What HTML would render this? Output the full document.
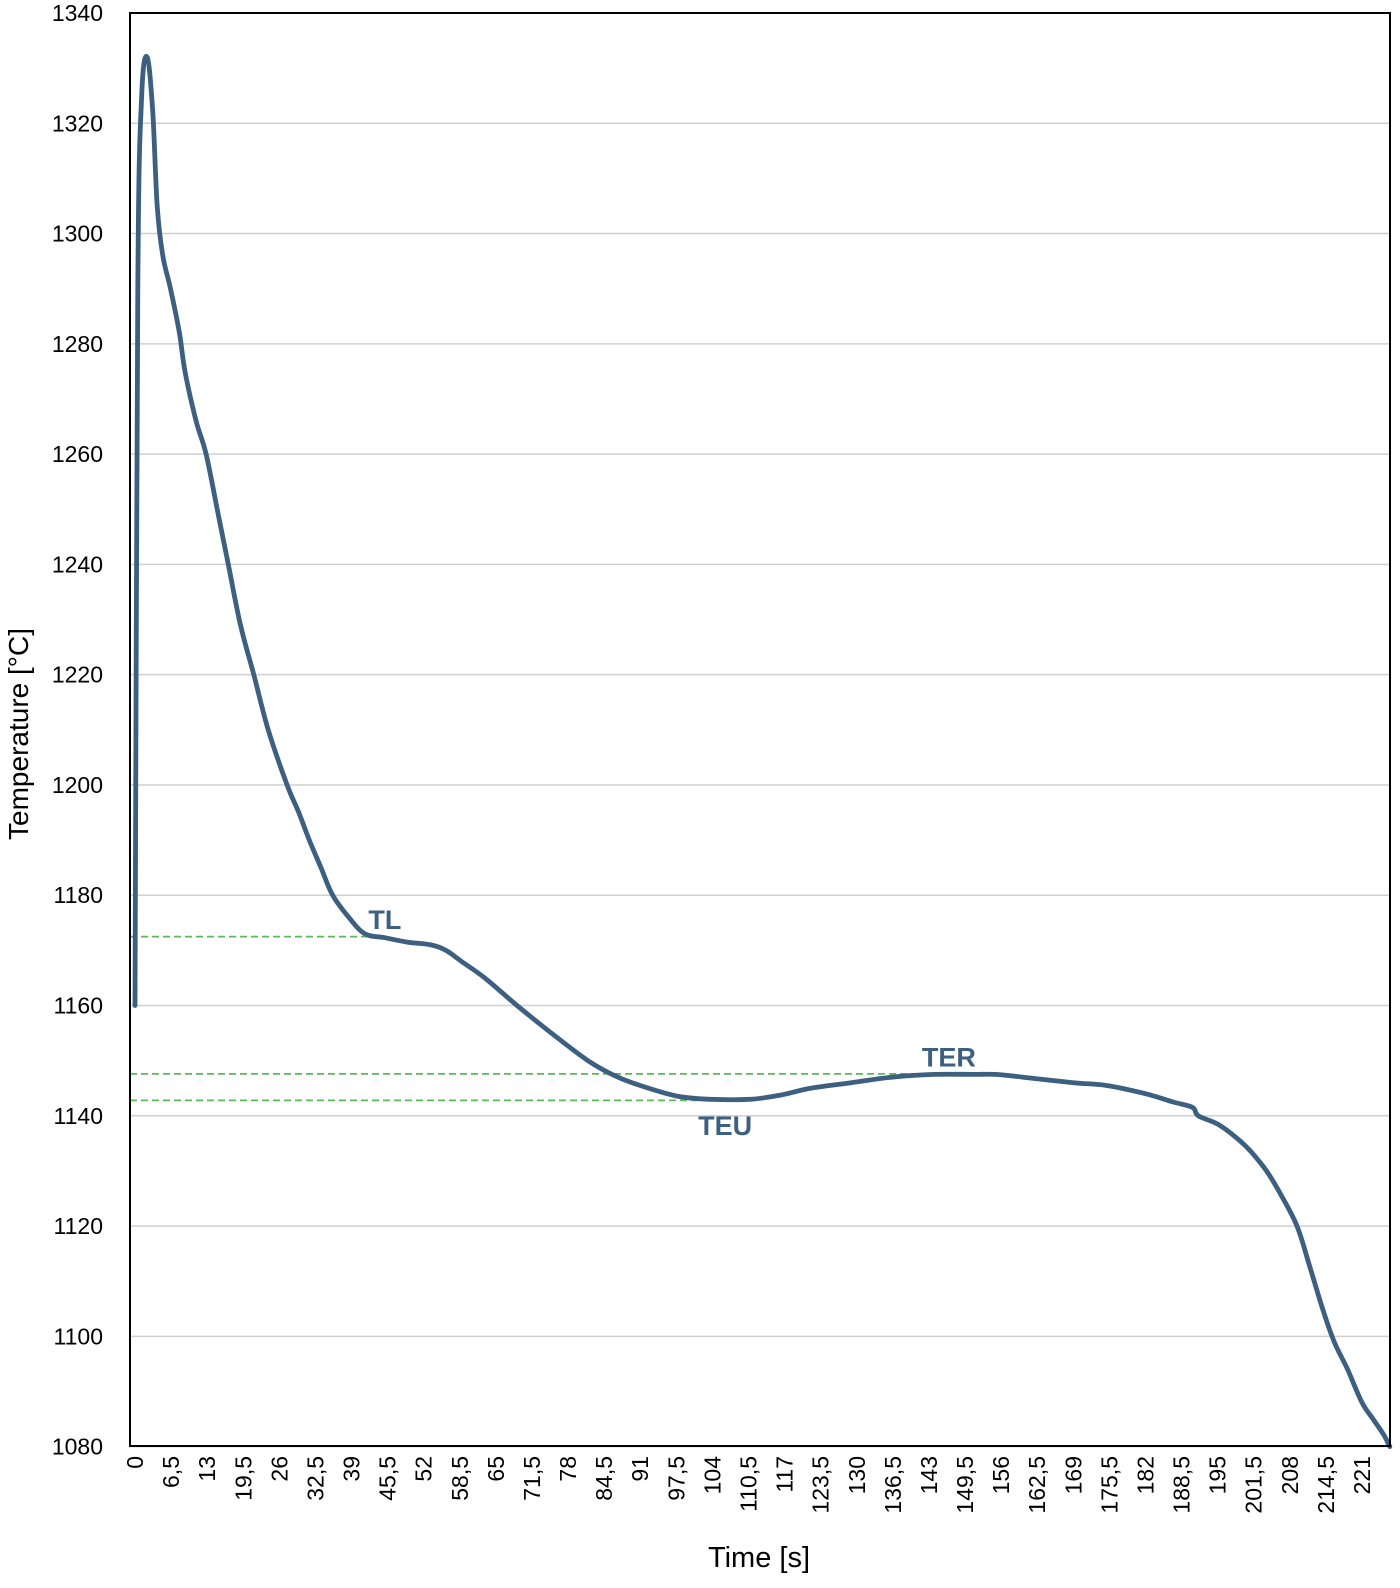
<!DOCTYPE html>
<html><head><meta charset="utf-8">
<style>
html,body{margin:0;padding:0;background:#fff;}
svg text{font-family:"Liberation Sans",sans-serif;}
</style></head>
<body>
<svg id="chart" width="1400" height="1583" xmlns="http://www.w3.org/2000/svg">
<g id="grid"></g>
<g id="yticks"></g>
<g id="xticks"></g>
<g id="refs"></g>
<path id="curve" fill="none" stroke="#3d5f80" stroke-width="4.8" stroke-linejoin="round" stroke-linecap="round"/>
<rect x="130" y="13" width="1260" height="1433" fill="none" stroke="#000" stroke-width="2"/>
<g id="annots"></g>
<text x="759" y="1567" font-size="29" text-anchor="middle" fill="#000">Time [s]</text>
<text transform="translate(28,734) rotate(-90)" font-size="28" text-anchor="middle" fill="#000">Temperature [°C]</text>
</svg>
<script>
const times = [0,0.5,1.2,2.2,3.2,4,5,6.4,8,9,11,12.8,15,16.8,19,21.4,24,27.4,29.5,31.4,33.5,35.6,38.5,41.4,45,49,53.3,56,58.8,63,68.8,75,81.6,87,92.5,98,103.5,110.8,116,121.7,129,136.3,144,151,155,160,169,175,182,187,190.5,191.5,195,198.4,201,203.8,206.5,209.3,211.5,213.9,216,218.4,221,223,225,226];
const temps = [1160,1290,1325,1332,1322,1305,1296,1290,1282,1275,1266,1260,1249,1240,1229,1220,1210,1200,1195,1190,1185,1180,1176,1173,1172.3,1171.5,1171,1170,1168,1165,1160,1155,1150,1147,1145,1143.5,1143,1143,1143.7,1145,1146,1147,1147.5,1147.5,1147.5,1147,1146,1145.5,1144,1142.5,1141.5,1140,1138.5,1136,1133.5,1130,1125.5,1120,1113,1105,1099,1094,1088,1085,1082,1080];
const xLabels = [];
for (let i=0;i<=34;i++){ const v=i*6.5; xLabels.push(Number.isInteger(v)?String(v):String(v).replace('.',',')); }
const yTickValues = [1080,1100,1120,1140,1160,1180,1200,1220,1240,1260,1280,1300,1320,1340];
const refNames = ['TL','TER','TEU'];
const refValues = [1172.5,1147.6,1142.8];
const refEndTimes = [43,142.5,107];
const labelTimes = [45,146.6,106.3];
const labelTemps = [1173.9,1148.9,1136.5];

const NS='http://www.w3.org/2000/svg';
const X0=135, XS=5.552, Y0=13, YS=5.514, YMAX=1340;
const x = t => X0 + t*XS;
const y = v => Y0 + (YMAX - v)*YS;

const grid=document.getElementById('grid'), yt=document.getElementById('yticks');
yTickValues.forEach(v=>{
  const l=document.createElementNS(NS,'line');
  
  
  l.setAttribute('x1',130);l.setAttribute('x2',1390);l.setAttribute('y1',y(v));l.setAttribute('y2',y(v));
  l.setAttribute('stroke','#d0d0d0');l.setAttribute('stroke-width','1.5');
  grid.appendChild(l);
  const t=document.createElementNS(NS,'text');
  
  
  t.setAttribute('x',103);t.setAttribute('y',y(v)+8);t.setAttribute('font-size','23');t.setAttribute('text-anchor','end');
  t.textContent=v; yt.appendChild(t);
});
const xt=document.getElementById('xticks');
xLabels.forEach((s,i)=>{
  const t=document.createElementNS(NS,'text');
  
  
  const px=x(i*6.5)+8;
  t.setAttribute('transform','translate('+px+',1456) rotate(-90)');
  t.setAttribute('font-size','23');t.setAttribute('text-anchor','end');
  t.textContent=s; xt.appendChild(t);
});
const refs=document.getElementById('refs'), ann=document.getElementById('annots');
refNames.forEach((n,i)=>{
  const l=document.createElementNS(NS,'line');
  
  
  l.setAttribute('x1',130);l.setAttribute('x2',x(refEndTimes[i]));
  l.setAttribute('y1',y(refValues[i]));l.setAttribute('y2',y(refValues[i]));
  l.setAttribute('stroke','#5cb85c');l.setAttribute('stroke-width','1.8');l.setAttribute('stroke-dasharray','7,4');
  refs.appendChild(l);
  const t=document.createElementNS(NS,'text');
  
  
  t.setAttribute('x',x(labelTimes[i]));t.setAttribute('y',y(labelTemps[i]));
  t.setAttribute('font-size','27');t.setAttribute('font-weight','bold');t.setAttribute('fill','#3d5f80');t.setAttribute('text-anchor','middle');
  t.textContent=n; ann.appendChild(t);
});
const P = times.map((t,i)=>[x(t), y(temps[i])]);
let d='M'+P[0][0].toFixed(1)+','+P[0][1].toFixed(1);
for (let i=0;i<P.length-1;i++){
  const p0=P[Math.max(0,i-1)], p1=P[i], p2=P[i+1], p3=P[Math.min(P.length-1,i+2)];
  const c1=[p1[0]+(p2[0]-p0[0])/6, p1[1]+(p2[1]-p0[1])/6];
  const c2=[p2[0]-(p3[0]-p1[0])/6, p2[1]-(p3[1]-p1[1])/6];
  d+='C'+c1[0].toFixed(1)+','+c1[1].toFixed(1)+' '+c2[0].toFixed(1)+','+c2[1].toFixed(1)+' '+p2[0].toFixed(1)+','+p2[1].toFixed(1);
}
document.getElementById('curve').setAttribute('d',d);
</script>
</body></html>
